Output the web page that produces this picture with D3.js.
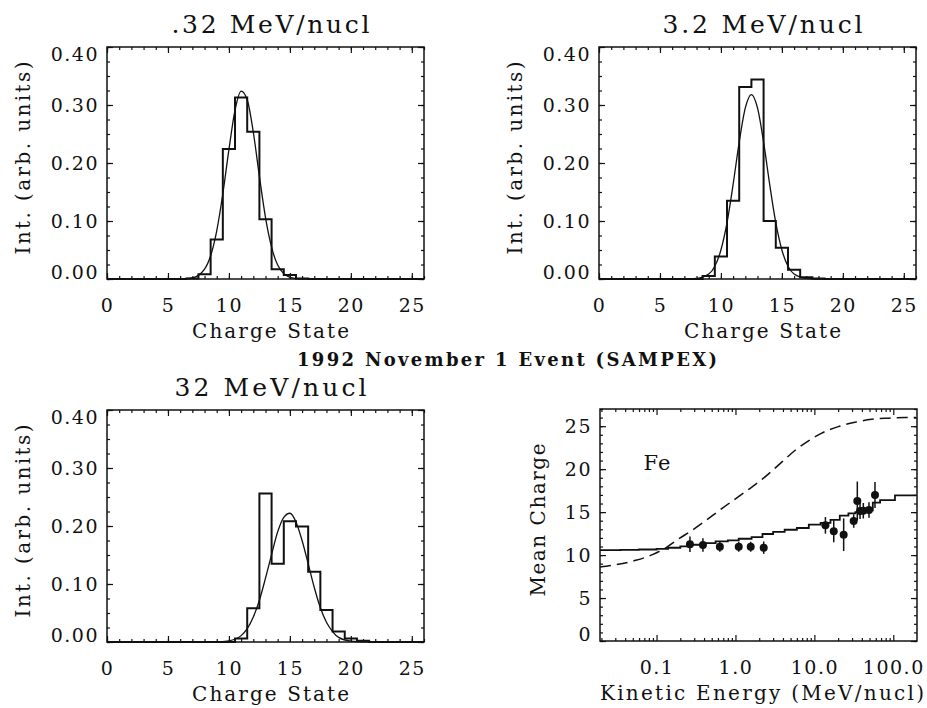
<!DOCTYPE html>
<html>
<head>
<meta charset="utf-8">
<script src="https://cdn.jsdelivr.net/npm/d3@7"></script>
<style>
body { margin: 0; background: #fff; }
text { font-family: "DejaVu Serif", serif; fill: #111; }
</style>
</head>
<body>
<svg id="chart" width="927" height="708"></svg>
<script>
// charge state histograms, one bin per integer charge
var charge1 = [7, 8, 9, 10, 11, 12, 13, 14, 15, 16];
var hist1 = [0.001, 0.008, 0.068, 0.224, 0.313, 0.254, 0.103, 0.017, 0.007, 0.001];
var charge2 = [9, 10, 11, 12, 13, 14, 15, 16, 17, 18];
var hist2 = [0.005, 0.039, 0.135, 0.331, 0.344, 0.100, 0.054, 0.016, 0.003, 0.001];
var charge3 = [11, 12, 13, 14, 15, 16, 17, 18, 19, 20, 21];
var hist3 = [0.006, 0.058, 0.256, 0.135, 0.208, 0.199, 0.121, 0.055, 0.018, 0.006, 0.002];

// fitted curves
var fitX1 = [0, 6, 7, 8, 8.5, 9, 9.5, 10, 10.5, 11, 11.5, 12, 12.5, 13, 13.5, 14, 15, 16, 26];
var fitY1 = [0, 0.0001, 0.002, 0.017, 0.040, 0.083, 0.147, 0.223, 0.291, 0.324, 0.309, 0.253, 0.177, 0.106, 0.055, 0.024, 0.003, 0.0002, 0];
var fitX2 = [0, 7, 8, 9, 9.5, 10, 10.5, 11, 11.5, 12, 12.5, 13, 13.5, 14, 14.5, 15, 15.5, 16, 17, 18, 26];
var fitY2 = [0, 0, 0.001, 0.0085, 0.022, 0.050, 0.097, 0.163, 0.236, 0.295, 0.318, 0.295, 0.236, 0.163, 0.097, 0.050, 0.022, 0.0085, 0.001, 0, 0];
var fitX3 = [0, 9, 10, 11, 11.5, 12, 12.5, 13, 13.5, 14, 14.5, 15, 15.5, 16, 16.5, 17, 17.5, 18, 18.5, 19, 20, 21, 26];
var fitY3 = [0, 0.0002, 0.002, 0.011, 0.023, 0.043, 0.072, 0.110, 0.151, 0.190, 0.215, 0.222, 0.207, 0.175, 0.135, 0.094, 0.059, 0.034, 0.018, 0.008, 0.0014, 0.0002, 0];

// mean charge vs energy (Fe)
var energy = [0.265, 0.387, 0.634, 1.10, 1.56, 2.28, 13.8, 17.6, 23.5, 31.5, 35.0, 37.9, 41.7, 49.2, 58.6];
var meanQ = [11.25, 11.17, 10.97, 10.97, 10.97, 10.86, 13.46, 12.77, 12.37, 13.96, 16.29, 15.13, 15.16, 15.24, 16.99];
var qErr = [0.9, 0.78, 0.58, 0.58, 0.58, 0.72, 0.97, 1.28, 1.9, 0.78, 2.27, 0.93, 0.9, 0.9, 1.5];

// stepped model curve
var stepE = [0.0192, 0.035, 0.06, 0.1, 0.14, 0.2, 0.28, 0.4, 0.56, 0.8, 1.1, 1.6, 2.2, 3.0, 4.2, 6.0, 8.5, 12, 16, 21, 27, 33, 40, 55, 68, 105, 194];
var stepQ = [10.58, 10.6, 10.65, 10.72, 10.85, 11.02, 11.2, 11.38, 11.6, 11.72, 11.9, 12.1, 12.45, 12.7, 12.95, 13.15, 13.55, 13.75, 14.1, 14.6, 14.85, 15.0, 15.2, 16.1, 16.4, 16.95, 16.95];

// dashed equilibrium curve
var dashE = [0.0192, 0.0305, 0.0546, 0.0887, 0.131, 0.192, 0.284, 0.418, 0.647, 1.0, 1.47, 2.0, 2.63, 3.89, 5.72, 8.42, 12.4, 20.1, 32.7, 53.2, 86.2, 140, 194];
var dashQ = [8.6, 8.88, 9.39, 10.05, 10.85, 11.9, 12.9, 14.0, 15.3, 16.55, 17.65, 18.55, 19.45, 20.85, 22.2, 23.3, 24.2, 24.95, 25.45, 25.8, 25.93, 26.0, 26.02];

// tick labels
var chargeTicks = [0, 5, 10, 15, 20, 25];
var intTicks = [0, 0.1, 0.2, 0.3, 0.4];
var energyTicks = [0.1, 1, 10, 100];
var qTicks = [0, 5, 10, 15, 20, 25];

var W = 317, H = 232;
var svg = d3.select("#chart");

function axes(g, x, y, o) {
    // minor ticks on all four sides
    g.append("g").attr("transform", "translate(0," + H + ")")
        .call(d3.axisBottom(x).tickValues(o.xMinor).tickSize(-3).tickFormat(""));
    g.append("g").call(d3.axisTop(x).tickValues(o.xMinor).tickSize(-3).tickFormat(""));
    g.append("g").call(d3.axisLeft(y).tickValues(o.yMinor).tickSize(-3).tickFormat(""));
    g.append("g").attr("transform", "translate(" + W + ",0)")
        .call(d3.axisRight(y).tickValues(o.yMinor).tickSize(-3).tickFormat(""));
    // major ticks
    g.append("g").attr("class", "lab").attr("transform", "translate(0," + H + ")")
        .call(d3.axisBottom(x).tickValues(o.xTicks).tickSize(-6).tickPadding(20).tickFormat(o.xFmt));
    g.append("g").call(d3.axisTop(x).tickValues(o.xTicks).tickSize(-6).tickFormat(""));
    var ly = g.append("g").attr("class", "lab")
        .call(d3.axisLeft(y).tickValues(o.yTicks).tickSize(-6).tickPadding(8).tickFormat(o.yFmt));
    g.append("g").attr("transform", "translate(" + W + ",0)")
        .call(d3.axisRight(y).tickValues(o.yTicks).tickSize(-6).tickFormat(""));
    // keep end labels inside the frame
    ly.selectAll("text").attr("y", function (d) {
        var p = y(d);
        if (Math.abs(p - H) < 2) return -7;
        if (Math.abs(p) < 2) return 7;
        return 0;
    });
    g.selectAll(".domain").remove();
    g.selectAll(".tick line").attr("stroke", "#111").attr("stroke-width", 1.2);
    g.selectAll(".lab text").attr("font-family", "DejaVu Serif").attr("font-size", 19)
        .attr("letter-spacing", "1.5px").attr("fill", "#111");
    g.append("rect").attr("width", W).attr("height", H)
        .attr("fill", "none").attr("stroke", "#111").attr("stroke-width", 1.5);
}

function chargePanel(left, top, title, charges, hist, fitX, fitY) {
    var g = svg.append("g").attr("transform", "translate(" + left + "," + top + ")");
    var x = d3.scaleLinear().domain([0, 26]).range([0, W]);
    var y = d3.scaleLinear().domain([0, 0.4]).range([H, 0]);

    // histogram outline
    var pts = [[0, 0]];
    charges.forEach(function (c, i) { pts.push([c - 0.5, hist[i]]); });
    pts.push([charges[charges.length - 1] + 0.5, 0]);
    pts.push([26, 0]);
    var step = d3.line().x(function (d) { return x(d[0]); }).y(function (d) { return y(d[1]); })
        .curve(d3.curveStepAfter);
    g.append("path").datum(pts).attr("d", step)
        .attr("fill", "none").attr("stroke", "#111").attr("stroke-width", 2);

    // fit curve
    var fit = d3.line().x(function (d, i) { return x(fitX[i]); }).y(function (d) { return y(d); })
        .curve(d3.curveMonotoneX);
    g.append("path").datum(fitY).attr("d", fit)
        .attr("fill", "none").attr("stroke", "#111").attr("stroke-width", 1.3);

    axes(g, x, y, {
        xTicks: chargeTicks, xMinor: d3.range(0, 27), xFmt: d3.format("d"),
        yTicks: intTicks, yMinor: d3.range(0, 0.401, 0.025), yFmt: d3.format(".2f")
    });

    g.append("text").attr("x", W / 2 + 5).attr("y", -14).attr("text-anchor", "middle")
        .attr("font-size", 25).attr("textLength", title.w).attr("lengthAdjust", "spacing")
        .text(title.t);
    g.append("text").attr("x", W / 2 + 5).attr("y", H + 59).attr("text-anchor", "middle")
        .attr("font-size", 20).attr("textLength", 157).attr("lengthAdjust", "spacing")
        .text("Charge State");
    g.append("text").attr("transform", "translate(" + (title.yl) + "," + (H / 2 - 5) + ") rotate(-90)")
        .attr("text-anchor", "middle").attr("font-size", 20)
        .attr("textLength", 193).attr("lengthAdjust", "spacing")
        .text("Int. (arb. units)");
}

chargePanel(107, 47, { t: ".32 MeV/nucl", w: 198, yl: -77 }, charge1, hist1, fitX1, fitY1);
chargePanel(599, 47, { t: "3.2 MeV/nucl", w: 200, yl: -77 }, charge2, hist2, fitX2, fitY2);
chargePanel(107, 410, { t: "32 MeV/nucl", w: 192, yl: -77 }, charge3, hist3, fitX3, fitY3);

// mean charge panel
var g4 = svg.append("g").attr("transform", "translate(600,409)");
var xE = d3.scaleLog().domain([0.0192, 194]).range([0, W - 1]);
var yQ = d3.scaleLinear().domain([0, 27]).range([H, 0]);

var minorE = [];
[0.01, 0.1, 1, 10, 100].forEach(function (dec) {
    for (var k = 2; k <= 9; k++) {
        var v = dec * k;
        if (v > 0.0192 && v < 194) minorE.push(v);
    }
});

g4.append("path").datum(dashE.map(function (e, i) { return [e, dashQ[i]]; }))
    .attr("d", d3.line().x(function (d) { return xE(d[0]); }).y(function (d) { return yQ(d[1]); })
        .curve(d3.curveMonotoneX))
    .attr("fill", "none").attr("stroke", "#111").attr("stroke-width", 1.5)
    .attr("stroke-dasharray", "11,6");

g4.append("path").datum(stepE.map(function (e, i) { return [e, stepQ[i]]; }))
    .attr("d", d3.line().x(function (d) { return xE(d[0]); }).y(function (d) { return yQ(d[1]); })
        .curve(d3.curveStepAfter))
    .attr("fill", "none").attr("stroke", "#111").attr("stroke-width", 1.8);

g4.selectAll("line.err").data(energy).enter().append("line").attr("class", "err")
    .attr("x1", function (d) { return xE(d); }).attr("x2", function (d) { return xE(d); })
    .attr("y1", function (d, i) { return yQ(meanQ[i] - qErr[i]); })
    .attr("y2", function (d, i) { return yQ(meanQ[i] + qErr[i]); })
    .attr("stroke", "#111").attr("stroke-width", 1.5);

g4.selectAll("circle").data(energy).enter().append("circle")
    .attr("cx", function (d) { return xE(d); })
    .attr("cy", function (d, i) { return yQ(meanQ[i]); })
    .attr("r", 4).attr("fill", "#111");

axes(g4, xE, yQ, {
    xTicks: energyTicks, xMinor: minorE, xFmt: function (d) { return d.toFixed(1); },
    yTicks: qTicks, yMinor: d3.range(0, 28, 1), yFmt: d3.format("d")
});

g4.append("text").attr("x", 57).attr("y", 61).attr("text-anchor", "middle")
    .attr("font-size", 21).attr("textLength", 27).text("Fe");
g4.append("text").attr("x", 162).attr("y", H + 59).attr("text-anchor", "middle")
    .attr("font-size", 20).attr("textLength", 324).attr("lengthAdjust", "spacing")
    .text("Kinetic Energy (MeV/nucl)");
g4.append("text").attr("transform", "translate(-55," + (H / 2 - 5) + ") rotate(-90)")
    .attr("text-anchor", "middle").attr("font-size", 20)
    .attr("textLength", 153).attr("lengthAdjust", "spacing")
    .text("Mean Charge");

// overall title
svg.append("text").attr("x", 507).attr("y", 366).attr("text-anchor", "middle")
    .attr("font-size", 18).attr("font-weight", "bold")
    .attr("textLength", 420).attr("lengthAdjust", "spacing")
    .text("1992 November 1 Event (SAMPEX)");
</script>
</body>
</html>
